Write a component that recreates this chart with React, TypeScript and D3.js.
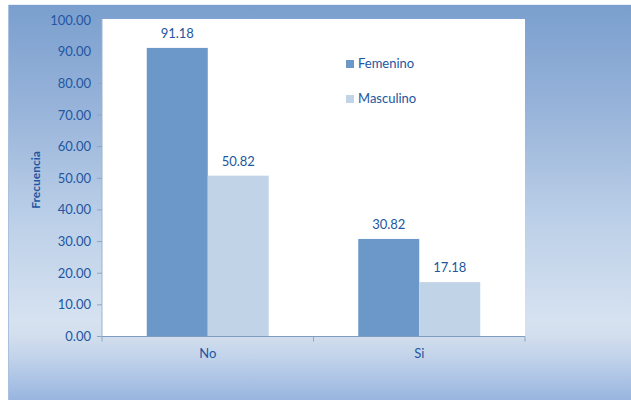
import React from "react";
import * as d3 from "d3";

const categories = ["No", "Si"];
const seriesNames = ["Femenino", "Masculino"];
const femenino = [91.18, 30.82];
const masculino = [50.82, 17.18];
const yTicks = [0, 10, 20, 30, 40, 50, 60, 70, 80, 90, 100];
const seriesColors = ["#6b97c9", "#c1d3e7"];

const W = 631;
const H = 400;
const plot = { left: 102, right: 525, top: 20, bottom: 336.5 };
const textColor = "#2256a0";
const font = "Lato, 'Open Sans', sans-serif";

export default function App() {
  const values = [femenino, masculino];
  const x0 = d3.scaleBand<string>().domain(categories).range([plot.left, plot.right]).padding(0);
  const x1 = d3
    .scaleBand<string>()
    .domain(seriesNames)
    .range([0, x0.bandwidth()])
    .paddingInner(0)
    .paddingOuter(0.734);
  const y = d3.scaleLinear().domain([0, 100]).range([plot.bottom, plot.top]);
  const fmt = d3.format(".2f");
  const boundaries = [plot.left, ...categories.map((c) => (x0(c) as number) + x0.bandwidth())];

  return (
    <svg
      width={W}
      height={H}
      style={{ position: "absolute", left: 0, top: 0 }}
      fontFamily={font}
    >
      <defs>
        <linearGradient id="bg" x1="0" y1="0" x2="0" y2="1">
          <stop offset="0" stopColor="#7a9fce" />
          <stop offset="0.25" stopColor="#96b2d9" />
          <stop offset="0.55" stopColor="#bcd0e8" />
          <stop offset="0.8" stopColor="#d6e2f0" />
          <stop offset="0.84" stopColor="#d2deed" />
          <stop offset="0.9" stopColor="#bfd1ea" />
          <stop offset="1" stopColor="#98b5df" />
        </linearGradient>
      </defs>
      <rect x={0} y={0} width={W} height={H} fill="#ffffff" />
      <rect x={8} y={4} width={W - 8} height={H - 4} fill="url(#bg)" />
      <line x1={8.5} y1={4} x2={8.5} y2={H} stroke="#a9c0de" strokeWidth={1} />
      <line x1={8} y1={4.5} x2={W} y2={4.5} stroke="#e8eef6" strokeWidth={1} />

      <rect
        x={plot.left}
        y={plot.top - 1}
        width={plot.right - plot.left}
        height={plot.bottom - plot.top + 1}
        fill="#ffffff"
      />

      {categories.map((c, ci) =>
        seriesNames.map((s, si) => {
          const v = values[si][ci];
          const bx = (x0(c) as number) + (x1(s) as number);
          return (
            <g key={c + s}>
              <rect
                x={bx}
                y={y(v)}
                width={x1.bandwidth()}
                height={plot.bottom - y(v)}
                fill={seriesColors[si]}
              />
              <text
                x={bx + x1.bandwidth() / 2}
                y={y(v) - 10}
                textAnchor="middle"
                fontSize={13}
                fill={textColor}
              >
                {fmt(v)}
              </text>
            </g>
          );
        })
      )}

      {/* y axis */}
      <line x1={plot.left} y1={plot.top - 1} x2={plot.left} y2={plot.bottom} stroke="#9fb3cc" />
      {yTicks.map((t) => (
        <g key={t}>
          <line x1={plot.left - 5} x2={plot.left} y1={y(t)} y2={y(t)} stroke="#8ea6c4" />
          <text
            x={91}
            y={y(t)}
            dy="0.35em"
            textAnchor="end"
            fontSize={13}
            fill={textColor}
          >
            {fmt(t)}
          </text>
        </g>
      ))}

      {/* x axis */}
      <line x1={plot.left} y1={plot.bottom} x2={plot.right} y2={plot.bottom} stroke="#7f9cc2" />
      {boundaries.map((b, i) => (
        <line key={i} x1={b} x2={b} y1={plot.bottom} y2={plot.bottom + 5} stroke="#8ea6c4" />
      ))}
      {categories.map((c) => (
        <text
          key={c}
          x={(x0(c) as number) + x0.bandwidth() / 2}
          y={358}
          textAnchor="middle"
          fontSize={13}
          fill={textColor}
        >
          {c}
        </text>
      ))}

      <text
        transform={`translate(40,180) rotate(-90)`}
        textAnchor="middle"
        fontSize={12}
        fontWeight="bold"
        fill={textColor}
      >
        Frecuencia
      </text>

      {/* legend */}
      {seriesNames.map((s, i) => (
        <g key={s} transform={`translate(346, ${60 + i * 35})`}>
          <rect x={0} y={0} width={8} height={8} fill={seriesColors[i]} />
          <text x={12} y={8} fontSize={13} fill={textColor}>
            {s}
          </text>
        </g>
      ))}
    </svg>
  );
}
